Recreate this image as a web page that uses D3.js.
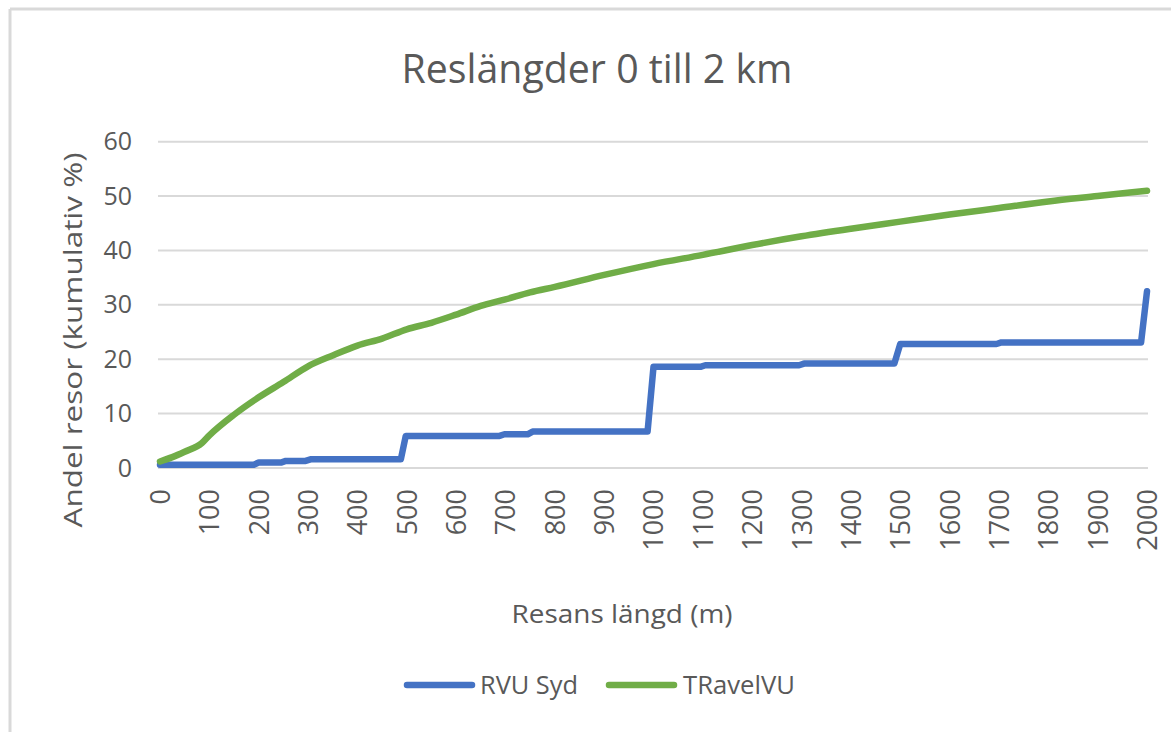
<!DOCTYPE html>
<html>
<head>
<meta charset="utf-8">
<script src="https://cdn.jsdelivr.net/npm/d3@7"></script>
<style>
  body { margin: 0; background: #fff; }
  text { font-family: "Open Sans", sans-serif; fill: #595959; }
</style>
</head>
<body>
<div id="chart"></div>
<script>
// chart data
var xTicks = d3.range(0, 2001, 100)
var yTicks = [0, 10, 20, 30, 40, 50, 60]

// TRavelVU (green), cumulative % by trip length in metres
var travelDist = [0, 25, 50, 85, 100, 150, 200, 250, 300, 350, 400, 450, 500, 550, 600, 650, 700, 750, 800, 900,
  1000, 1100, 1200, 1300, 1400, 1500, 1600, 1700, 1800, 1900, 2000]
var travelVal = [1.2, 2.0, 3.0, 4.6, 6.0, 9.8, 13.0, 15.8, 18.7, 20.7, 22.5, 23.8, 25.5, 26.7, 28.2, 29.8, 31.0, 32.3, 33.3, 35.5,
  37.5, 39.2, 41.0, 42.6, 44.0, 45.3, 46.6, 47.8, 49.0, 50.0, 51.0]

// RVU Syd (blue), step shaped
var rvuDist = [0, 190, 200, 245, 255, 295, 305, 488, 498, 688, 698, 745, 755, 988, 1000, 1095, 1105, 1295, 1305,
  1488, 1500, 1695, 1705, 1988, 2000]
var rvuVal = [0.6, 0.6, 1.0, 1.0, 1.3, 1.3, 1.6, 1.6, 5.9, 5.9, 6.2, 6.2, 6.7, 6.7, 18.6, 18.6, 18.9, 18.9, 19.2,
  19.2, 22.8, 22.8, 23.1, 23.1, 32.5]

var seriesNames = ["RVU Syd", "TRavelVU"]
var seriesColors = ["#4472C4", "#70AD47"]

var width = 1171, height = 732

var svg = d3.select("#chart")
  .append("svg")
  .attr("width", width)
  .attr("height", height)

// chart area border (only left and top show in the picture)
svg.append("line").attr("x1", 10).attr("x2", width).attr("y1", 9).attr("y2", 9)
  .style("stroke", "#d9d9d9").style("stroke-width", 3)
svg.append("line").attr("x1", 10).attr("x2", 10).attr("y1", 9).attr("y2", height)
  .style("stroke", "#d9d9d9").style("stroke-width", 3)

var x = d3.scaleLinear().domain([0, 2000]).range([160, 1147])
var y = d3.scaleLinear().domain([0, 60]).range([468, 141.7])

// title
svg.append("text")
  .attr("x", 597).attr("y", 83)
  .attr("text-anchor", "middle")
  .style("font-size", "40px")
  .attr("textLength", 391).attr("lengthAdjust", "spacingAndGlyphs")
  .text("Reslängder 0 till 2 km")

// gridlines
svg.append("g")
  .selectAll("line")
  .data(yTicks)
  .enter()
  .append("line")
  .attr("x1", 158).attr("x2", 1148)
  .attr("y1", function (d) { return y(d) })
  .attr("y2", function (d) { return y(d) })
  .style("stroke", "#d9d9d9")
  .style("stroke-width", 2)

// y axis
var yAxis = svg.append("g")
  .attr("transform", "translate(140,0)")
  .call(d3.axisLeft(y).tickValues(yTicks).tickSize(0).tickPadding(8))
yAxis.select(".domain").remove()
yAxis.selectAll("text")
  .style("font-size", "25px")
  .style("font-family", "Open Sans")
  .attr("fill", "#595959")

// x axis, labels turned -90
var xAxis = svg.append("g")
  .attr("transform", "translate(0,468)")
  .call(d3.axisBottom(x).tickValues(xTicks).tickSize(0).tickFormat(d3.format("d")))
xAxis.select(".domain").remove()
xAxis.selectAll("text")
  .style("font-size", "27px")
  .style("font-family", "Open Sans")
  .attr("fill", "#595959")
  .attr("text-anchor", "end")
  .attr("transform", "rotate(-90)")
  .attr("x", -21)
  .attr("y", 0)
  .attr("dy", "0.35em")

// axis titles
svg.append("text")
  .attr("transform", "translate(82,340) rotate(-90)")
  .attr("text-anchor", "middle")
  .style("font-size", "26px")
  .attr("textLength", 375).attr("lengthAdjust", "spacingAndGlyphs")
  .text("Andel resor (kumulativ %)")

svg.append("text")
  .attr("x", 622).attr("y", 623)
  .attr("text-anchor", "middle")
  .style("font-size", "26px")
  .attr("textLength", 221).attr("lengthAdjust", "spacingAndGlyphs")
  .text("Resans längd (m)")

// lines
var rvu = rvuDist.map(function (d, i) { return [d, rvuVal[i]] })
var travel = travelDist.map(function (d, i) { return [d, travelVal[i]] })

var stepLine = d3.line()
  .x(function (d) { return x(d[0]) })
  .y(function (d) { return y(d[1]) })
var smoothLine = d3.line()
  .x(function (d) { return x(d[0]) })
  .y(function (d) { return y(d[1]) })
  .curve(d3.curveMonotoneX)

svg.append("path")
  .attr("d", stepLine(rvu))
  .style("fill", "none")
  .style("stroke", seriesColors[0])
  .style("stroke-width", 6.5)
  .style("stroke-linejoin", "round")
  .style("stroke-linecap", "round")

svg.append("path")
  .attr("d", smoothLine(travel))
  .style("fill", "none")
  .style("stroke", seriesColors[1])
  .style("stroke-width", 6.5)
  .style("stroke-linejoin", "round")
  .style("stroke-linecap", "round")

// legend
var legendX = [407, 609]
var legendLen = [98, 112]
var legend = svg.selectAll("mylegend")
  .data(seriesNames)
  .enter()
  .append("g")
  .attr("transform", function (d, i) { return "translate(" + legendX[i] + ",685)" })

legend.append("line")
  .attr("x1", 0).attr("x2", 65)
  .style("stroke", function (d, i) { return seriesColors[i] })
  .style("stroke-width", 6.5)
  .style("stroke-linecap", "round")

legend.append("text")
  .attr("x", function (d, i) { return i == 0 ? 73 : 74 })
  .attr("dy", "0.35em")
  .style("font-size", "26px")
  .attr("textLength", function (d, i) { return legendLen[i] })
  .attr("lengthAdjust", "spacingAndGlyphs")
  .text(function (d) { return d })
</script>
</body>
</html>
